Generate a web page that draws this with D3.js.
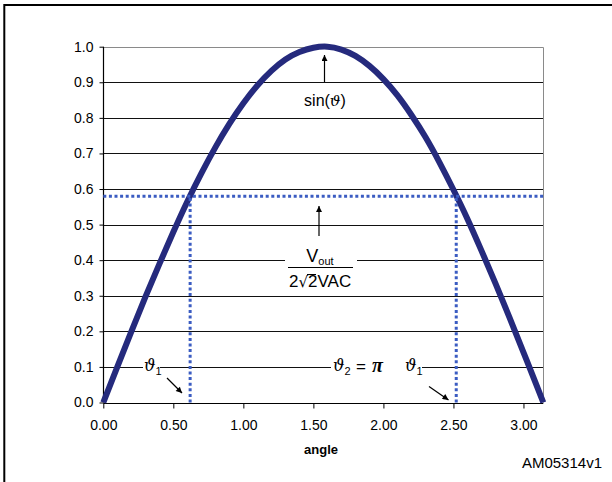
<!DOCTYPE html>
<html><head><meta charset="utf-8">
<script src="https://cdn.jsdelivr.net/npm/d3@7"></script>
<style>body{margin:0;background:#fff}svg{display:block}</style>
</head><body><svg id="c" width="612" height="482"></svg>
<script>
// ---- data ----
const angles = [0,0.1,0.2,0.3,0.4,0.5,0.6,0.7,0.8,0.9,1.0,1.1,1.2,1.3,1.4,1.5,1.6,1.7,1.8,1.9,2.0,2.1,2.2,2.3,2.4,2.5,2.6,2.7,2.8,2.9,3.0,3.1,3.1416];
const sinValues = [0,0.100,0.199,0.296,0.389,0.479,0.565,0.644,0.717,0.783,0.841,0.891,0.932,0.964,0.985,0.997,1.000,0.992,0.974,0.946,0.909,0.863,0.808,0.746,0.675,0.598,0.516,0.427,0.335,0.239,0.141,0.042,0];
const xTicks = [0,0.5,1.0,1.5,2.0,2.5,3.0];
const xTickLabels = ["0.00","0.50","1.00","1.50","2.00","2.50","3.00"];
const yTicks = [0,0.1,0.2,0.3,0.4,0.5,0.6,0.7,0.8,0.9,1.0];
const yTickLabels = ["0.0","0.1","0.2","0.3","0.4","0.5","0.6","0.7","0.8","0.9","1.0"];
const xMax = 3.1416;
const theta1 = 0.62;
const theta1b = 2.52;
const level = 0.58;

// ---- drawing ----
const svg = d3.select("#c");
const x = d3.scaleLinear().domain([0, xMax]).range([103.3, 543.3]);
const y = d3.scaleLinear().domain([0, 1]).range([402.5, 46.7]);
const sans = "'Liberation Sans', Arial, sans-serif";
const serif = "'DejaVu Serif', 'Liberation Serif', serif";

// outer frame (top & left)
svg.append("line").attr("x1",4.3).attr("x2",612).attr("y1",5).attr("y2",5).attr("stroke","#000").attr("stroke-width",2);
svg.append("line").attr("x1",4.3).attr("x2",4.3).attr("y1",4).attr("y2",482).attr("stroke","#000").attr("stroke-width",2);

// gridlines
svg.append("g").selectAll("line").data(yTicks.filter(v=>v>0 && v<1)).join("line")
  .attr("x1",x(0)).attr("x2",x(xMax)).attr("y1",d=>Math.round(y(d))+0.5).attr("y2",d=>Math.round(y(d))+0.5)
  .attr("stroke","#111").attr("stroke-width",1);
// top/right border
svg.append("path").attr("d",`M${x(0)},${Math.round(y(1))+0.5}H${Math.round(x(xMax))+0.5}V${y(0)}`)
  .attr("fill","none").attr("stroke","#8a8a8a").attr("stroke-width",1);

// axes
const yAxis = d3.axisLeft(y).tickValues(yTicks).tickFormat((d,i)=>yTickLabels[i]).tickSize(4).tickPadding(6);
const gy = svg.append("g").attr("transform",`translate(${Math.round(x(0))+0.5},0)`).call(yAxis);
const xAxis = d3.axisBottom(x).tickValues(xTicks).tickFormat((d,i)=>xTickLabels[i]).tickSize(5).tickPadding(12);
const gx = svg.append("g").attr("transform",`translate(0,${Math.round(y(0))+0.5})`).call(xAxis);
[gx,gy].forEach(g=>{
  g.select(".domain").attr("stroke","#000").attr("stroke-width",1.2);
  g.selectAll(".tick line").attr("stroke","#000");
  g.selectAll("text").attr("font-family",sans).attr("font-size",14).attr("fill","#000");
});
gy.select(".domain").attr("d",`M0,${y(0)}V${y(1)}`);
gx.select(".domain").attr("d",`M${x(0)},0H${x(xMax)}`);

svg.append("text").attr("x",321).attr("y",454).attr("text-anchor","middle")
  .attr("font-family",sans).attr("font-weight","bold").attr("font-size",13).text("angle");

// sine curve
const line = d3.line().x((d,i)=>x(angles[i])).y(d=>y(d)).curve(d3.curveNatural);
svg.append("path").datum(sinValues).attr("d",line).attr("fill","none")
  .attr("stroke","#252a7d").attr("stroke-width",6).attr("stroke-linecap","butt");

// dotted lines
const dot = {stroke:"#3b5cc2", w:3, dash:"3,2.6"};
function dl(x1,y1,x2,y2){
  svg.append("line").attr("x1",x1).attr("y1",y1).attr("x2",x2).attr("y2",y2)
   .attr("stroke",dot.stroke).attr("stroke-width",dot.w).attr("stroke-dasharray",dot.dash);
}
dl(x(0), y(level), x(xMax), y(level));
dl(x(theta1), y(0), x(theta1), y(level));
dl(x(theta1b), y(0), x(theta1b), y(level));

// arrow marker
svg.append("defs").append("marker").attr("id","ah").attr("viewBox","0 0 10 10").attr("refX",10).attr("refY",5)
  .attr("markerWidth",9).attr("markerHeight",6).attr("markerUnits","userSpaceOnUse").attr("orient","auto")
  .append("path").attr("d","M0,0L10,5L0,10Z").attr("fill","#000");
function arrow(x1,y1,x2,y2){
  svg.append("line").attr("x1",x1).attr("y1",y1).attr("x2",x2).attr("y2",y2)
    .attr("stroke","#000").attr("stroke-width",1.2).attr("marker-end","url(#ah)");
}

// sin(θ) label
arrow(324.5, 82, 324.5, 55);
const t1 = svg.append("text").attr("x",325).attr("y",106).attr("text-anchor","middle")
  .attr("font-family",sans).attr("font-size",16);
t1.append("tspan").text("sin(");
t1.append("tspan").attr("font-family",serif).attr("font-style","italic").attr("font-size",15).text("ϑ");
t1.append("tspan").text(")");

// Vout fraction
arrow(319, 236, 319, 206);
svg.append("rect").attr("x",285).attr("y",243).attr("width",72).attr("height",48).attr("fill","#fff");
const tv = svg.append("text").attr("x",320).attr("y",262).attr("text-anchor","middle").attr("font-family",sans).attr("font-size",18);
tv.append("tspan").text("V");
tv.append("tspan").attr("font-size",11).attr("dy",3).text("out");
svg.append("line").attr("x1",288).attr("x2",353).attr("y1",267.5).attr("y2",267.5).attr("stroke","#000").attr("stroke-width",1);
const td = svg.append("text").attr("x",289).attr("y",287).attr("font-family",sans).attr("font-size",17);
td.append("tspan").text("2");
td.append("tspan").attr("font-family","'DejaVu Sans', sans-serif").attr("font-size",15).text("√");
td.append("tspan").text("2VAC");
svg.append("line").attr("x1",307).attr("x2",316).attr("y1",274.5).attr("y2",274.5).attr("stroke","#000").attr("stroke-width",1);

// theta labels
function thetaLabel(xp, sub){
  const t = svg.append("text").attr("x",xp).attr("y",371).attr("font-family",serif).attr("font-style","italic").attr("font-size",16).attr("fill","#000");
  t.append("tspan").text("ϑ");
  t.append("tspan").attr("font-family",sans).attr("font-style","normal").attr("font-size",11).attr("dy",4).text(sub);
  return t;
}
svg.append("rect").attr("x",143).attr("y",356).attr("width",17).attr("height",22).attr("fill","#fff");
thetaLabel(144, "1");
arrow(167, 378, 182, 393);

svg.append("rect").attr("x",331).attr("y",356).attr("width",91).attr("height",22).attr("fill","#fff");
thetaLabel(333, "2");
svg.append("text").attr("x",356).attr("y",372).attr("font-family",sans).attr("font-size",17).text("=");
svg.append("text").attr("x",372).attr("y",372).attr("font-family","'Liberation Serif', serif").attr("font-weight","bold").attr("font-style","italic").attr("font-size",20).text("π");
thetaLabel(405, "1");
arrow(429, 386.5, 448.5, 400);

// id
svg.append("text").attr("x",602).attr("y",468).attr("text-anchor","end").attr("font-family",sans).attr("font-size",15).text("AM05314v1");
</script></body></html>
